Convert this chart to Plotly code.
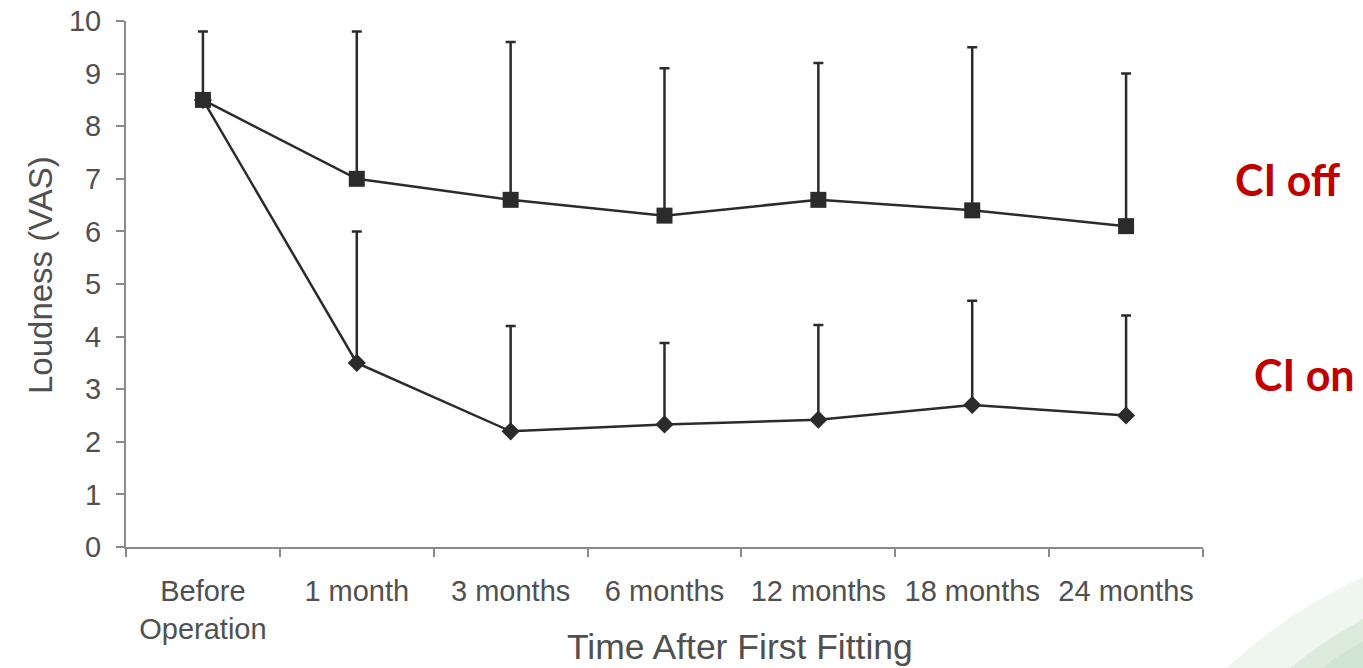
import plotly.graph_objects as go

# Loudness ratings (VAS) over time after first fitting
time_points = ["Before<br>Operation", "1 month", "3 months", "6 months",
               "12 months", "18 months", "24 months"]

ci_off_mean = [8.5, 7.0, 6.6, 6.3, 6.6, 6.4, 6.1]
ci_off_upper = [9.8, 9.8, 9.6, 9.1, 9.2, 9.5, 9.0]

ci_on_mean = [8.5, 3.5, 2.2, 2.33, 2.42, 2.7, 2.5]
ci_on_upper = [None, 6.0, 4.2, 3.88, 4.22, 4.68, 4.4]

y_ticks = list(range(0, 11))

# page geometry
W, H = 1363, 668
ML, MR, MT, MB = 126, 160, 21, 121
PW, PH = W - ML - MR, H - MT - MB


def px(x, y):
    """Pixel position on the page -> paper coordinates."""
    return (x - ML) / PW, (H - MB - y) / PH


def upper_err(mean, upper):
    return [None if u is None else round(u - m, 3) for m, u in zip(mean, upper)]


INK = "#2b2b2b"
AXIS = "#8a8a8a"
TEXT = "#505050"

fig = go.Figure()

fig.add_trace(go.Scatter(
    x=time_points, y=ci_on_mean, name="CI on", mode="lines+markers",
    line=dict(color=INK, width=2.5),
    marker=dict(symbol="diamond", size=14, color=INK),
    error_y=dict(type="data", symmetric=False,
                 array=upper_err(ci_on_mean, ci_on_upper),
                 arrayminus=[0] * len(ci_on_mean),
                 color=INK, thickness=2.5, width=5),
))

fig.add_trace(go.Scatter(
    x=time_points, y=ci_off_mean, name="CI off", mode="lines+markers",
    line=dict(color=INK, width=2.5),
    marker=dict(symbol="square", size=16, color=INK),
    error_y=dict(type="data", symmetric=False,
                 array=upper_err(ci_off_mean, ci_off_upper),
                 arrayminus=[0] * len(ci_off_mean),
                 color=INK, thickness=2.5, width=5),
))

font_family = "Liberation Sans, Arial, sans-serif"

annotations = []
# axis titles
tx, ty = px(740, 647)
annotations.append(dict(x=tx, y=ty, xref="paper", yref="paper", showarrow=False,
                        text="Time After First Fitting", xanchor="center", yanchor="middle",
                        font=dict(family=font_family, size=35.5, color=TEXT)))
tx, ty = px(40, 275)
annotations.append(dict(x=tx, y=ty, xref="paper", yref="paper", showarrow=False,
                        text="Loudness (VAS)", textangle=-90, xanchor="center", yanchor="middle",
                        font=dict(family=font_family, size=33, color=TEXT)))
# series labels
for label, (lx, ly) in [("CI off", (1288, 179)), ("CI on", (1304, 374))]:
    ax_, ay_ = px(lx, ly)
    annotations.append(dict(x=ax_, y=ay_, xref="paper", yref="paper", showarrow=False,
                            text=f"<b>{label}</b>", xanchor="center", yanchor="middle",
                            font=dict(family="Lato, Noto Sans, sans-serif", size=43,
                                      color="#c00000")))


# decorative green swoosh in the lower right corner
def path_from(points_cmds):
    out = []
    for cmd, pts in points_cmds:
        coords = " ".join(f"{px(x, y)[0]:.4f},{px(x, y)[1]:.4f}" for x, y in pts)
        out.append(f"{cmd} {coords}".strip())
    return " ".join(out)


def band(x0, xc, yc, y1, color):
    return dict(type="path", xref="paper", yref="paper", layer="below",
                path=path_from([("M", [(x0, H)]), ("Q", [(xc, yc), (W, y1)]),
                                ("L", [(W, H)]), ("Z", [])]),
                fillcolor=color, line=dict(width=0))


shapes = [
    band(1226, 1290, 610, 577, "#eff6ef"),
    band(1290, 1325, 640, 619, "#dcebdc"),
    band(1322, 1342, 652, 642, "#d0e4d1"),
]

axis_common = dict(
    ticks="outside", ticklen=8, tickwidth=2, tickcolor=AXIS,
    showline=True, linecolor=AXIS, linewidth=2,
    showgrid=False, zeroline=False, automargin=False,
    tickfont=dict(family=font_family, size=29, color=TEXT),
)

fig.update_layout(
    width=W, height=H,
    margin=dict(l=ML, r=MR, t=MT, b=MB, pad=0, autoexpand=False),
    paper_bgcolor="white", plot_bgcolor="white",
    showlegend=False,
    font=dict(family=font_family, color=TEXT),
    annotations=annotations,
    shapes=shapes,
    xaxis=dict(type="category", range=[-0.5, 6.5], tickson="boundaries",
               ticklabelstandoff=17, **axis_common),
    yaxis=dict(range=[0, 10], tickvals=y_ticks, ticklabelstandoff=9, **axis_common),
)

fig.write_html("out.html")
